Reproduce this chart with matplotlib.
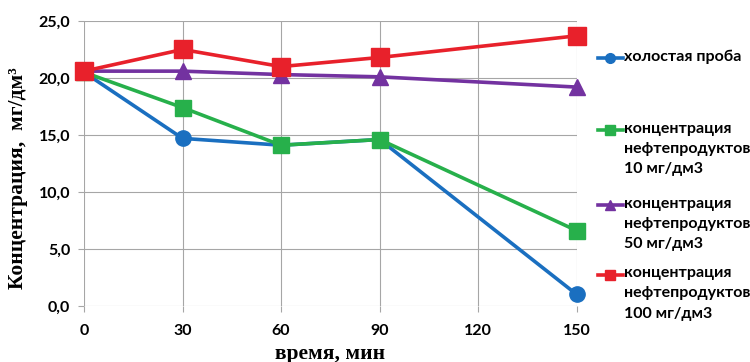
import numpy as np
import matplotlib.pyplot as plt
from matplotlib.lines import Line2D

# время отбора, мин
t = [0, 30, 60, 90, 150]

# концентрация, мг/дм3
blank = [20.5, 14.7, 14.1, 14.6, 1.0]
c10 = [20.5, 17.4, 14.1, 14.6, 6.6]
c50 = [20.6, 20.6, 20.3, 20.1, 19.2]
c100 = [20.6, 22.5, 21.0, 21.8, 23.7]

x_ticks = [0, 30, 60, 90, 120, 150]
y_ticks = [0, 5, 10, 15, 20, 25]

series = [
    (blank, "#1a6fc0", "o", 11, "холостая проба"),
    (c10, "#27b04b", "s", 11, "концентрация\nнефтепродуктов\n10 мг/дм3"),
    (c50, "#7332a0", "^", 12, "концентрация\nнефтепродуктов\n50 мг/дм3"),
    (c100, "#e8212b", "s", 13, "концентрация\nнефтепродуктов\n100 мг/дм3"),
]

fig = plt.figure(figsize=(7.5, 3.62), dpi=100)
ax = fig.add_axes([0.112, 0.155, 0.657, 0.787])

for vals, col, mk, ms, lab in series:
    ax.plot(t, vals, color=col, lw=2.6, marker=mk, ms=ms, mec=col, mfc=col,
            clip_on=False, zorder=3)

ax.set_xlim(0, 150)
ax.set_ylim(0, 25)
ax.set_xticks(x_ticks)
ax.set_yticks(y_ticks)
ax.set_xticklabels([str(v) for v in x_ticks])
ax.set_yticklabels([f"{v:.1f}".replace(".", ",") for v in y_ticks])
ax.grid(True, color="#a6a6a6", lw=0.8)
ax.set_axisbelow(True)
for s in ax.spines.values():
    s.set_visible(False)
ax.tick_params(length=4, width=0.8, color="#a6a6a6", pad=6)
ax.tick_params(axis="x", pad=9)
for lbl in ax.get_xticklabels() + ax.get_yticklabels():
    lbl.set_fontfamily("Lato")
    lbl.set_fontweight("bold")
    lbl.set_fontsize(11.5)

ax.set_xlabel("время, мин", fontfamily="Liberation Serif", fontweight="bold",
              fontsize=15.5, labelpad=4)
ax.set_ylabel("Концентрация,  мг/дм³", fontfamily="Liberation Serif",
              fontweight="bold", fontsize=15.5)
ax.yaxis.set_label_coords(-0.113, 0.45)

# легенда справа от графика
leg_top = [0.84, 0.64, 0.433, 0.24]
for (vals, col, mk, ms, lab), yy in zip(series, leg_top):
    fig.add_artist(Line2D([0.797, 0.83], [yy, yy], color=col, lw=2.6,
                          transform=fig.transFigure))
    fig.add_artist(Line2D([0.8135], [yy], color=col, marker=mk, ms=7,
                          mec=col, mfc=col, transform=fig.transFigure))
    fig.text(0.832, yy + 0.024, lab, fontfamily="Lato", fontweight="bold",
             fontsize=11.5, va="top", ha="left", linespacing=1.55)

fig.savefig("out.png", dpi=100)
